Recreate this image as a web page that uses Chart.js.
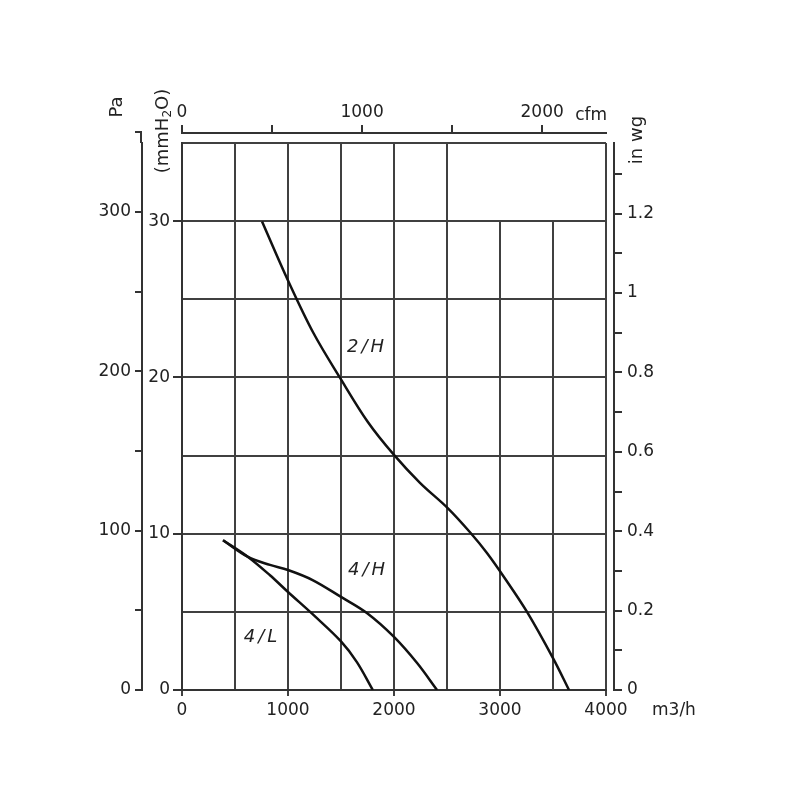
<!DOCTYPE html>
<html>
<head>
<meta charset="utf-8">
<script src="https://cdn.jsdelivr.net/npm/chart.js@4.4.0/dist/chart.umd.min.js"></script>
<style>
  html, body { margin: 0; padding: 0; background: #fff; }
</style>
</head>
<body>
<canvas id="fanChart" width="800" height="800"></canvas>
<script>
// 팬 성능 곡선 - 풍량(m3/h) 대 정압(Pa)

// 곡선 데이터
const flow2H = [755, 1000, 1240, 1490, 1755, 2000, 2245, 2509, 2717, 2877, 3047, 3255, 3500, 3651];
const pres2H = [294, 257, 224, 196, 168, 147.5, 130, 114, 99, 86, 70, 49, 20, 0];

const flow4H = [387, 623, 830, 1000, 1232, 1500, 1744, 2000, 2218, 2406];
const pres4H = [94, 83.5, 78.5, 75.3, 69, 58.4, 48.3, 33.3, 16.9, 0];

const flow4L = [387, 623, 830, 1000, 1250, 1500, 1650, 1800];
const pres4L = [94, 83.5, 72, 61.5, 46.5, 30.5, 17.5, 0];

// 곡선 이름표 위치 (데이터 단위)
const curveNames = ['2/H', '4/H', '4/L'];
const nameFlow = [1745, 1755, 755];
const namePres = [215, 75, 33];

// 눈금 / 라벨
const flowTicks = [0, 500, 1000, 1500, 2000, 2500, 3000, 3500, 4000];
const flowLabels = [0, 1000, 2000, 3000, 4000];
const cfmTicks = [0, 500, 1000, 1500, 2000];
const cfmLabels = [0, 1000, 2000];
const paTicks = [0, 50, 100, 150, 200, 250, 300];
const paLabels = [0, 100, 200, 300];
const paTopTick = 350;
const mmTicks = [0, 5, 10, 15, 20, 25, 30, 35];
const mmLabels = [0, 10, 20, 30];
const inwgTicks = [0, 0.1, 0.2, 0.3, 0.4, 0.5, 0.6, 0.7, 0.8, 0.9, 1, 1.1, 1.2, 1.3];
const inwgLabels = [0, 0.2, 0.4, 0.6, 0.8, 1, 1.2];

// 30 mmH2O 위에서는 그리지 않는 세로 격자
const partialGridX = [3000, 3500];
const partialGridTop = 30;

// 단위 환산
const FLOW_MAX = 4000;
const MM_MAX = 35;
const PA_PER_MM = 9.80665;
const MM_PER_INWG = 25.4;
const M3H_PER_CFM = 1.699;

const GRID = '#404040';
const AXIS = '#333';
const TEXT = '#222';
const FONT = 'DejaVu Sans';
const CLEAR = 'rgba(0,0,0,0)';

Chart.defaults.font.family = FONT;
Chart.defaults.font.size = 17;
Chart.defaults.color = TEXT;

const toPoints = (xs, ys) => xs.map((v, i) => ({ x: v, y: ys[i] }));
const fixTicks = list => s => { s.ticks = list.map(v => ({ value: v })); };
const tickVal = c => c.tick ? c.tick.value : null;

const curveStyle = {
    borderColor: '#111',
    borderWidth: 2.5,
    pointRadius: 0,
    fill: false,
    tension: 0.35,
    xAxisID: 'x',
    yAxisID: 'yPa'
};

const extras = {
    id: 'extras',
    beforeDatasetsDraw(chart) {
        const { ctx, scales: { x, y } } = chart;
        ctx.save();
        ctx.strokeStyle = GRID;
        ctx.lineWidth = 2;
        partialGridX.forEach(v => {
            const px = Math.round(x.getPixelForValue(v));
            ctx.beginPath();
            ctx.moveTo(px, y.getPixelForValue(partialGridTop));
            ctx.lineTo(px, y.getPixelForValue(0));
            ctx.stroke();
        });
        ctx.restore();
    },
    afterDraw(chart) {
        const { ctx, chartArea, scales } = chart;
        const { x, yPa, y, xCfm, yIn } = scales;
        ctx.save();

        // Pa 축 위쪽 연장 (350 Pa 눈금)
        const paTop = Math.round(yPa.getPixelForValue(paTopTick));
        ctx.strokeStyle = AXIS;
        ctx.lineWidth = 2;
        ctx.beginPath();
        ctx.moveTo(yPa.right - 7, paTop);
        ctx.lineTo(yPa.right - 1, paTop);
        ctx.lineTo(yPa.right - 1, chartArea.top);
        ctx.stroke();

        ctx.fillStyle = TEXT;

        // 곡선 이름
        ctx.font = 'italic 18px "' + FONT + '"';
        ctx.textAlign = 'center';
        ctx.textBaseline = 'middle';
        if ('letterSpacing' in ctx) ctx.letterSpacing = '3px';
        curveNames.forEach((n, i) => {
            ctx.fillText(n, x.getPixelForValue(nameFlow[i]), yPa.getPixelForValue(namePres[i]));
        });
        if ('letterSpacing' in ctx) ctx.letterSpacing = '0px';

        // 축 제목 (세로)
        ctx.font = '18px "' + FONT + '"';
        ctx.save();
        ctx.translate(yPa.right - 25, chartArea.top - 36);
        ctx.rotate(-Math.PI / 2);
        ctx.fillText('Pa', 0, 0);
        ctx.restore();

        ctx.save();
        ctx.translate(y.left + 21, chartArea.top - 12);
        ctx.rotate(-Math.PI / 2);
        ctx.textAlign = 'left';
        const parts = ['(mmH', '2', 'O)'];
        const w0 = ctx.measureText(parts[0]).width;
        ctx.font = '12px "' + FONT + '"';
        const w1 = ctx.measureText(parts[1]).width;
        ctx.font = '18px "' + FONT + '"';
        const w2 = ctx.measureText(parts[2]).width;
        const sx = -(w0 + w1 + w2) / 2;
        ctx.fillText(parts[0], sx, 0);
        ctx.font = '12px "' + FONT + '"';
        ctx.fillText(parts[1], sx + w0, 5);
        ctx.font = '18px "' + FONT + '"';
        ctx.fillText(parts[2], sx + w0 + w1, 0);
        ctx.restore();

        ctx.save();
        ctx.translate(yIn.left + 23, chartArea.top - 3);
        ctx.rotate(-Math.PI / 2);
        ctx.fillText('in wg', 0, 0);
        ctx.restore();

        // 단위 (가로)
        ctx.font = '17px "' + FONT + '"';
        ctx.textAlign = 'left';
        ctx.fillText('cfm', xCfm.getPixelForValue(2000) + 33, xCfm.bottom - 17);
        ctx.fillText('m3/h', chartArea.right + 46, x.top + 21);
        ctx.restore();
    }
};

new Chart(document.getElementById('fanChart').getContext('2d'), {
    type: 'line',
    data: {
        datasets: [
            Object.assign({ label: '2/H', data: toPoints(flow2H, pres2H) }, curveStyle),
            Object.assign({ label: '4/H', data: toPoints(flow4H, pres4H) }, curveStyle),
            Object.assign({ label: '4/L', data: toPoints(flow4L, pres4L) }, curveStyle)
        ]
    },
    options: {
        responsive: false,
        animation: false,
        devicePixelRatio: 1,
        layout: { padding: 0 },
        plugins: { legend: { display: false }, tooltip: { enabled: false } },
        scales: {
            x: {
                type: 'linear', position: 'bottom', min: 0, max: FLOW_MAX, bounds: 'data',
                afterBuildTicks: fixTicks(flowTicks),
                afterFit: s => { s.height = 110; },
                ticks: {
                    autoSkip: false, maxRotation: 0, padding: 4,
                    callback: v => flowLabels.includes(v) ? String(v) : ''
                },
                grid: {
                    lineWidth: 2, tickLength: 6,
                    color: c => partialGridX.includes(tickVal(c)) ? CLEAR : GRID,
                    tickColor: c => flowLabels.includes(tickVal(c)) ? GRID : CLEAR
                },
                border: { color: AXIS, width: 2 }
            },
            xGap: {
                type: 'linear', position: 'top', min: 0, max: FLOW_MAX, weight: 0,
                afterFit: s => { s.height = 10; },
                ticks: { display: false }, grid: { display: false }, border: { display: false }
            },
            xCfm: {
                type: 'linear', position: 'top', min: 0, max: FLOW_MAX / M3H_PER_CFM, weight: 1, bounds: 'data',
                afterBuildTicks: fixTicks(cfmTicks),
                afterFit: s => { s.height = 133; },
                ticks: {
                    autoSkip: false, maxRotation: 0, padding: 2,
                    callback: v => cfmLabels.includes(v) ? String(v) : ''
                },
                grid: { drawOnChartArea: false, tickLength: 8, color: AXIS, lineWidth: 2 },
                border: { color: AXIS, width: 2 }
            },
            y: {
                type: 'linear', position: 'left', min: 0, max: MM_MAX, weight: 0, bounds: 'data',
                afterBuildTicks: fixTicks(mmTicks),
                afterFit: s => { s.width = 40; },
                ticks: {
                    autoSkip: false, padding: 3,
                    callback: v => mmLabels.includes(v) ? String(v) : ''
                },
                grid: {
                    color: GRID, lineWidth: 2, tickLength: 9,
                    tickColor: c => mmLabels.includes(tickVal(c)) ? AXIS : CLEAR
                },
                border: { color: AXIS, width: 2 }
            },
            yPa: {
                type: 'linear', position: 'left', min: 0, max: MM_MAX * PA_PER_MM, weight: 1, bounds: 'data',
                afterBuildTicks: fixTicks(paTicks),
                afterFit: s => { s.width = 142; },
                ticks: {
                    autoSkip: false, padding: 4,
                    callback: v => paLabels.includes(v) ? String(v) : ''
                },
                grid: { drawOnChartArea: false, tickLength: 7, color: AXIS, lineWidth: 2 },
                border: { color: AXIS, width: 2 }
            },
            yGapR: {
                type: 'linear', position: 'right', min: 0, max: MM_MAX, weight: 0,
                afterFit: s => { s.width = 8; },
                ticks: { display: false }, grid: { display: false }, border: { display: false }
            },
            yIn: {
                type: 'linear', position: 'right', min: 0, max: MM_MAX / MM_PER_INWG, weight: 1, bounds: 'data',
                afterBuildTicks: fixTicks(inwgTicks),
                afterFit: s => { s.width = 186; },
                ticks: {
                    autoSkip: false, padding: 5,
                    callback: v => inwgLabels.includes(v) ? String(v) : ''
                },
                grid: { drawOnChartArea: false, tickLength: 8, color: AXIS, lineWidth: 2 },
                border: { color: AXIS, width: 2 }
            }
        }
    },
    plugins: [extras]
});
</script>
</body>
</html>
